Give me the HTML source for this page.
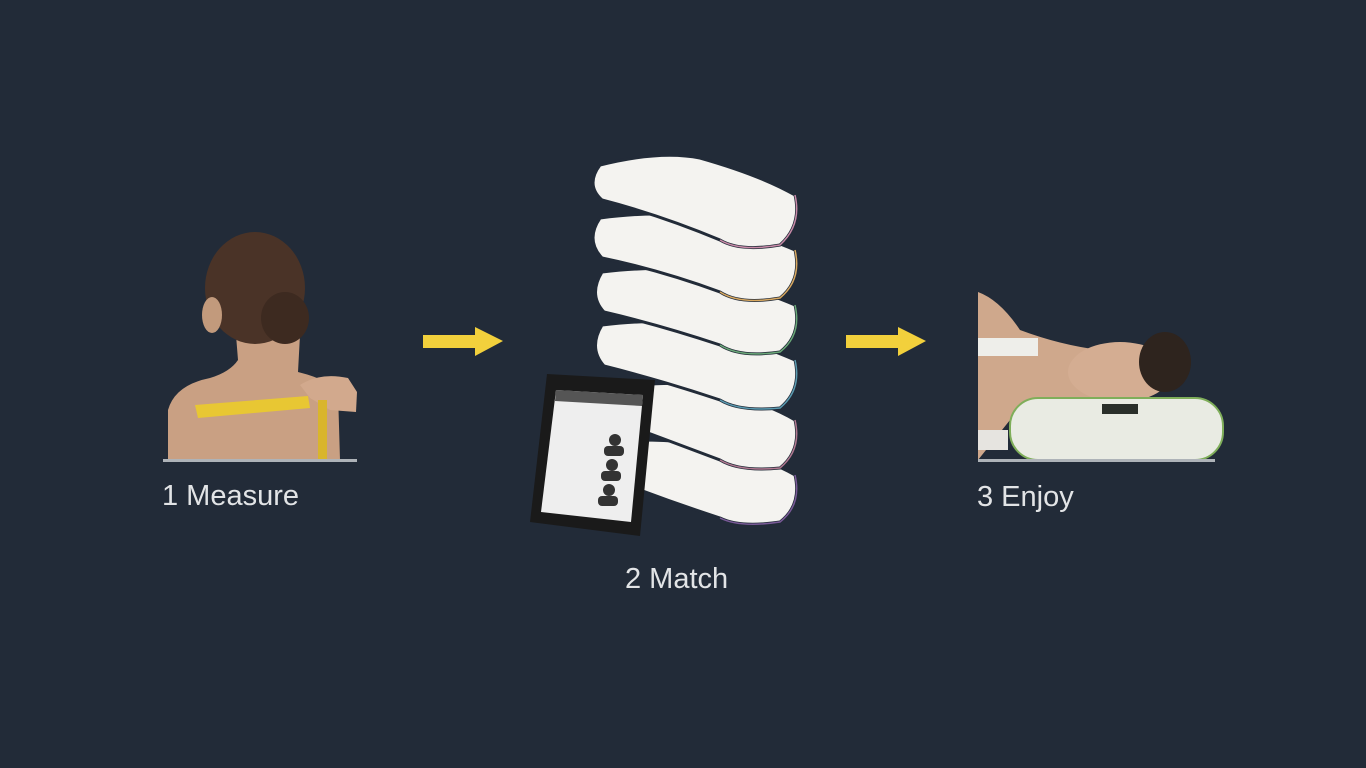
<!DOCTYPE html>
<html><head><style>
html,body{margin:0;padding:0;background:#222b38;width:1366px;height:768px;overflow:hidden}
.t{position:absolute;font-family:"Liberation Sans",sans-serif;font-size:29px;color:#e2e4e6}
</style></head><body>
<svg width="1366" height="768" style="position:absolute;left:0;top:0">
<path d="M168 460 L168 410 Q175 385 210 378 Q230 372 238 360 L236 335 L300 335 L298 372 Q330 380 338 392 L340 460 Z" fill="#c9a083"/>
<path d="M300 385 Q320 372 348 378 L357 392 L356 412 L330 410 L310 398 Z" fill="#d2a98d"/>
<path d="M195 405 L308 396 L310 408 L198 418 Z" fill="#e8c733"/>
<rect x="318" y="400" width="9" height="60" fill="#d9b52c"/>
<ellipse cx="255" cy="288" rx="50" ry="56" fill="#4a3327"/>
<ellipse cx="285" cy="318" rx="24" ry="26" fill="#3d2a20"/>
<ellipse cx="212" cy="315" rx="10" ry="18" fill="#c29a7c"/>
<rect x="163" y="459" width="194" height="3" fill="#aeb3b8"/>
<path d="M423 335 H475 V327 L503 341 L475 356 V348 H423 Z" fill="#f2d03c"/>
<path d="M846 335 H898 V327 L926 341 L898 356 V348 H846 Z" fill="#f2d03c"/>
<g fill="#f4f3f0" stroke="#222b38" stroke-width="3">
<path d="M640 440 Q690 440 720 448 Q770 460 795 475 Q802 505 780 522 Q740 528 720 518 Q680 505 640 490Z"/>
<path d="M640 385 Q690 380 720 390 Q770 405 795 420 Q802 450 780 468 Q740 472 720 460 Q680 445 640 430Z"/>
<path d="M602 325 Q660 318 700 325 Q760 345 795 360 Q802 390 780 408 Q740 412 720 400 Q660 380 604 366 Q588 348 602 325Z"/>
<path d="M602 272 Q660 265 700 272 Q760 290 795 305 Q802 335 780 352 Q740 358 720 345 Q660 325 604 312 Q588 295 602 272Z"/>
<path d="M600 218 Q660 210 700 218 Q760 235 795 250 Q802 280 780 298 Q740 305 720 292 Q660 270 602 258 Q585 240 600 218Z"/>
<path d="M600 165 Q660 150 700 158 Q760 175 795 195 Q802 225 780 245 Q740 252 720 240 Q660 215 602 200 Q585 185 600 165Z"/>
</g>
<g fill="none" stroke-width="1.5">
<path d="M795 195 Q802 225 780 245 Q740 252 720 240" stroke="#c88aa8"/>
<path d="M795 250 Q802 280 780 298 Q740 305 720 292" stroke="#d8a860"/>
<path d="M795 305 Q802 335 780 352 Q740 358 720 345" stroke="#6aa878"/>
<path d="M795 360 Q802 390 780 408 Q740 412 720 400" stroke="#5a9ab0"/>
<path d="M795 420 Q802 450 780 468 Q740 472 720 460" stroke="#b07890"/>
<path d="M795 475 Q802 505 780 522 Q740 528 720 518" stroke="#7a5a98"/>
</g>
<path d="M547 374 L655 380 L640 536 L530 522 Z" fill="#1a1a1a"/>
<path d="M556 390 L643 395 L631 522 L541 512 Z" fill="#eeeeee"/>
<path d="M556 390 L643 395 L642 406 L555 401 Z" fill="#555"/>
<g fill="#333"><circle cx="615" cy="440" r="6"/><circle cx="612" cy="465" r="6"/><circle cx="609" cy="490" r="6"/>
<rect x="604" y="446" width="20" height="10" rx="4"/><rect x="601" y="471" width="20" height="10" rx="4"/><rect x="598" y="496" width="20" height="10" rx="4"/></g>
<path d="M978 292 Q1000 300 1020 330 Q1060 345 1100 350 L1120 400 L1010 420 L978 460 Z" fill="#cfa88c"/>
<rect x="978" y="338" width="60" height="18" fill="#eeeeea"/>
<rect x="978" y="430" width="30" height="20" fill="#e6e4e0"/>
<ellipse cx="1120" cy="372" rx="52" ry="30" fill="#d4ad92"/>
<ellipse cx="1165" cy="362" rx="26" ry="30" fill="#2e241e"/>
<rect x="1010" y="398" width="213" height="62" rx="28" fill="#e9ebe3" stroke="#7fae5a" stroke-width="2"/>
<rect x="1102" y="404" width="36" height="10" fill="#2a2f2a"/>
<rect x="978" y="459" width="237" height="3" fill="#aeb3b8"/>
</svg>
<div class="t" style="left:162px;top:480px">1 Measure</div>
<div class="t" style="left:625px;top:563px">2 Match</div>
<div class="t" style="left:977px;top:481px">3 Enjoy</div>
</body></html>
